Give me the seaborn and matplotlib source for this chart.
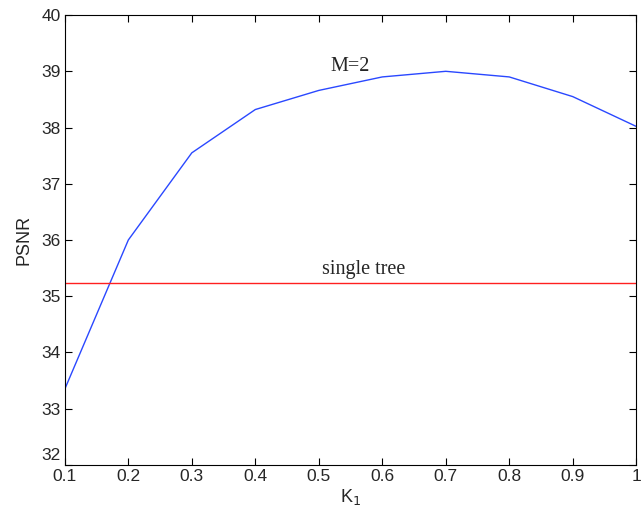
import seaborn as sns
import matplotlib.pyplot as plt
import matplotlib.transforms as mtransforms
import pandas as pd

k1 = [0.1, 0.2, 0.3, 0.4, 0.5, 0.6, 0.7, 0.8, 0.9, 1.0]
psnr_m2 = [33.35, 36.0, 37.55, 38.32, 38.66, 38.9, 39.0, 38.9, 38.55, 38.02]
single_tree = 35.23

sns.set_theme(style='white')
plt.rcParams['font.family'] = ['Liberation Sans', 'DejaVu Sans']
plt.rcParams['xtick.direction'] = 'in'
plt.rcParams['ytick.direction'] = 'in'

df = pd.DataFrame({'K1': k1, 'PSNR': psnr_m2})

fig = plt.figure(figsize=(6.42, 5.2), dpi=100)
ax = fig.add_axes([0.101, 0.106, 0.89, 0.865])

sns.lineplot(data=df, x='K1', y='PSNR', color='#2a48ff', linewidth=1.0, ax=ax)
ax.axhline(single_tree, color='#ff2020', linewidth=1.0)

ax.text(0.518, 39.08, 'M=2', family='Liberation Serif', fontsize=14.5, va='center', ha='left')
ax.text(0.505, 35.47, 'single tree', family='Liberation Serif', fontsize=14.5, va='center', ha='left')

ax.set_xlim(0.1, 1.0)
ax.set_ylim(32, 40)
ax.set_xticks(k1)
ax.set_xticklabels(['0.1', '0.2', '0.3', '0.4', '0.5', '0.6', '0.7', '0.8', '0.9', '1'])
ax.set_yticks(range(32, 41))
ax.tick_params(axis='both', labelsize=12.5, length=5, width=0.8, color='black', pad=3,
               top=True, right=True, bottom=True, left=True)
ax.set_xlabel('K$_1$', fontsize=13, labelpad=2)
ax.set_ylabel('PSNR', fontsize=13, labelpad=6)
for s in ax.spines.values():
    s.set_color('black')
    s.set_linewidth(0.8)

# lift the lowest y label above the x labels, MATLAB style
lab32 = ax.get_yticklabels()[0]
lab32.set_transform(lab32.get_transform() +
                    mtransforms.ScaledTranslation(0, 8 / 72, fig.dpi_scale_trans))

fig.savefig('out.png', dpi=100)
